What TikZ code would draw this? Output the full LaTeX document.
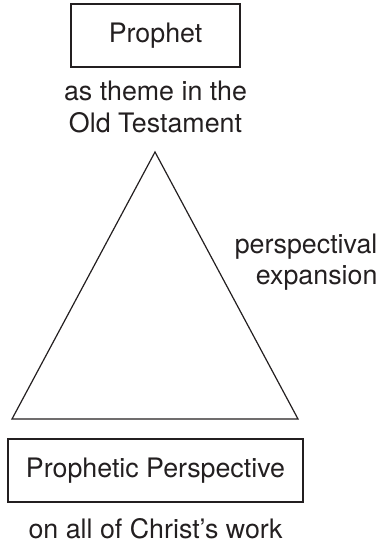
\documentclass[tikz,border=0pt]{standalone}
\usepackage{fontspec}
\setmainfont{TeX Gyre Heros}
\usetikzlibrary{positioning, calc}

\definecolor{ink}{HTML}{231F20}

\begin{document}
\begin{tikzpicture}[x=1pt, y=-1pt, line width=1.2pt, draw=ink, text=ink,
    frame/.style={rectangle, draw, minimum height=63pt, font=\fontsize{26.8}{31.5}\selectfont},
    caption/.style={inner sep=0pt, align=center, font=\fontsize{26.8}{31.5}\selectfont}]
  \useasboundingbox (0,0) rectangle (381,543);

  \node[frame, minimum width=169pt] (prophet) at (155.5,35.5) {Prophet};
  \node[caption, below=13pt of prophet] (theme) {as theme in the\\Old Testament};

  \coordinate (apex) at (155,152);
  \coordinate (baseL) at (12,419);
  \coordinate (baseR) at (298,419);
  \draw[ink, line join=miter] (apex) -- (baseL) -- (baseR) -- cycle;

  \node[caption, align=right, anchor=north east] (expansion) at (378,233) {perspectival\\expansion};

  \node[frame, minimum width=295pt] (perspective) at (155.5,470.5) {Prophetic Perspective};
  \node[caption, below=15pt of perspective] (work) {on all of Christ’s work};
\end{tikzpicture}
\end{document}
